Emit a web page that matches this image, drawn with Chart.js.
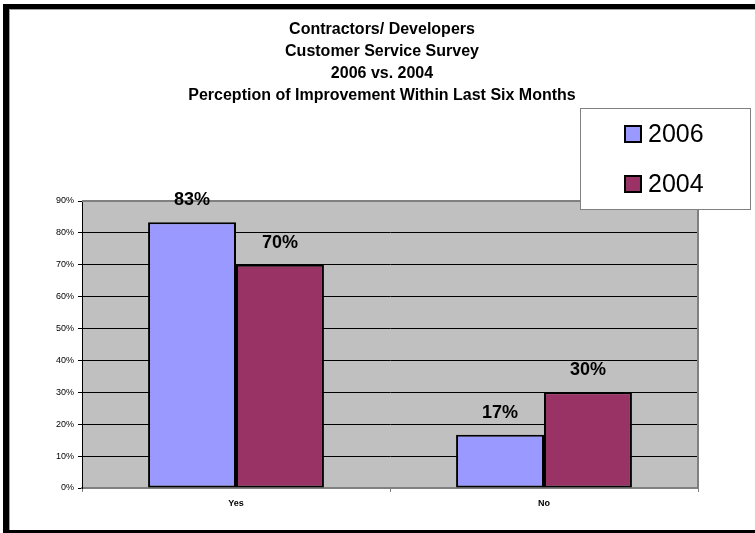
<!DOCTYPE html>
<html>
<head>
<meta charset="utf-8">
<script src="https://cdn.jsdelivr.net/npm/chart.js@4.4.1/dist/chart.umd.min.js"></script>
<style>
  html, body { margin: 0; padding: 0; background: #fff; overflow: hidden; }
  #wrap { position: relative; width: 755px; height: 533px; }
  #frame {
    position: absolute; left: 3px; top: 4px; width: 800px; height: 529px;
    box-sizing: border-box;
    border-left: 6px solid #000; border-top: 5px solid #000; border-bottom: 3px solid #000;
    box-shadow: inset 1px 1px 0 #a0a0a0;
    pointer-events: none;
  }
</style>
</head>
<body>
<div id="wrap">
  <canvas id="surveyChart" width="755" height="533"></canvas>
  <div id="frame"></div>
</div>
<script>
// Data
const categories = ['Yes', 'No'];
const seriesLabels = ['2006', '2004'];
const values2006 = [83.3, 16.7];
const values2004 = [70, 30];
const seriesColors = ['#9999FF', '#993366'];
const titleLines = [
    'Contractors/ Developers',
    'Customer Service Survey',
    '2006 vs. 2004',
    'Perception of Improvement Within Last Six Months'
];

const FONT = 'Arial, "Liberation Sans", sans-serif';

// gray plot area + gray top/right edge
const plotAreaPlugin = {
    id: 'plotArea',
    beforeDraw(chart) {
        const { ctx, chartArea: a } = chart;
        ctx.save();
        ctx.fillStyle = '#C0C0C0';
        ctx.fillRect(a.left, a.top, a.right - a.left, a.bottom - a.top);
        ctx.restore();
    },
    afterDatasetsDraw(chart) {
        const { ctx, chartArea: a } = chart;
        ctx.save();
        ctx.strokeStyle = '#808080';
        ctx.lineWidth = 2;
        ctx.beginPath();
        ctx.moveTo(a.left, a.top);
        ctx.lineTo(a.right, a.top);
        ctx.lineTo(a.right, a.bottom);
        ctx.stroke();
        ctx.restore();
    }
};

// value labels above bars
const valueLabelPlugin = {
    id: 'valueLabels',
    afterDatasetsDraw(chart) {
        const ctx = chart.ctx;
        ctx.save();
        ctx.font = 'bold 18px ' + FONT;
        ctx.fillStyle = '#000';
        ctx.textAlign = 'center';
        ctx.textBaseline = 'middle';
        chart.data.datasets.forEach((ds, i) => {
            chart.getDatasetMeta(i).data.forEach((bar, j) => {
                ctx.fillText(Math.round(ds.data[j]) + '%', bar.x, bar.y - 22);
            });
        });
        ctx.restore();
    }
};

// boxed legend sitting over the top right corner
const boxLegendPlugin = {
    id: 'boxLegend',
    afterDraw(chart, args, opts) {
        const ctx = chart.ctx;
        ctx.save();
        ctx.fillStyle = '#fff';
        ctx.fillRect(opts.x, opts.y, opts.w, opts.h);
        ctx.strokeStyle = '#808080';
        ctx.lineWidth = 1;
        ctx.strokeRect(opts.x + 0.5, opts.y + 0.5, opts.w, opts.h);
        ctx.font = '25px ' + FONT;
        ctx.textBaseline = 'middle';
        ctx.textAlign = 'left';
        chart.data.datasets.forEach((ds, i) => {
            const cy = opts.y + opts.firstRow + i * opts.rowGap;
            const bx = opts.x + opts.boxLeft;
            ctx.fillStyle = ds.backgroundColor;
            ctx.fillRect(bx, cy - 8, 16, 16);
            ctx.strokeStyle = '#000';
            ctx.lineWidth = 2;
            ctx.strokeRect(bx, cy - 8, 16, 16);
            ctx.fillStyle = '#000';
            ctx.fillText(ds.label, bx + 23, cy + 1);
        });
        ctx.restore();
    }
};

const chart = new Chart(document.getElementById('surveyChart'), {
    type: 'bar',
    data: {
        labels: categories,
        datasets: [
            { label: seriesLabels[0], data: values2006, backgroundColor: seriesColors[0] },
            { label: seriesLabels[1], data: values2004, backgroundColor: seriesColors[1] }
        ].map(d => Object.assign(d, {
            borderColor: '#000',
            borderWidth: 2,
            borderSkipped: false,
            barPercentage: 1,
            categoryPercentage: 0.571
        }))
    },
    options: {
        responsive: false,
        animation: false,
        layout: { padding: { left: 9, right: 0, top: 0, bottom: 0 } },
        plugins: {
            legend: { display: false },
            tooltip: { enabled: false },
            title: {
                display: true,
                text: titleLines,
                color: '#000',
                font: { family: FONT, size: 16, weight: 'bold', lineHeight: 22 / 16 },
                padding: { top: 19, bottom: 94 }
            },
            boxLegend: { x: 580, y: 108, w: 170, h: 101, firstRow: 26, rowGap: 50, boxLeft: 45 }
        },
        scales: {
            x: {
                grid: {
                    display: true,
                    offset: true,
                    drawOnChartArea: false,
                    drawTicks: true,
                    tickLength: 4,
                    color: '#808080'
                },
                border: { color: '#808080', width: 2 },
                ticks: {
                    color: '#000',
                    font: { family: FONT, size: 9, weight: 'bold' },
                    padding: 6
                },
                afterFit(scale) { scale.height = 45; }
            },
            y: {
                min: 0,
                max: 90,
                grid: {
                    color: c => (c.tick && (c.tick.value === 90 || c.tick.value === 0)) ? '#808080' : '#000',
                    lineWidth: 1,
                    tickLength: 4,
                    tickColor: '#000'
                },
                border: { color: '#000', width: 1 },
                ticks: {
                    stepSize: 10,
                    color: '#000',
                    padding: 4,
                    font: { family: FONT, size: 9 },
                    callback: v => v + '%'
                },
                afterFit(scale) { scale.width = 73; }
            },
            // empty right-hand spacer so the plot ends where the original does
            spacer: {
                type: 'linear',
                position: 'right',
                display: true,
                grid: { display: false },
                border: { display: false },
                ticks: { display: false },
                afterFit(scale) { scale.width = 57; }
            }
        }
    },
    plugins: [plotAreaPlugin, valueLabelPlugin, boxLegendPlugin]
});
</script>
</body>
</html>
